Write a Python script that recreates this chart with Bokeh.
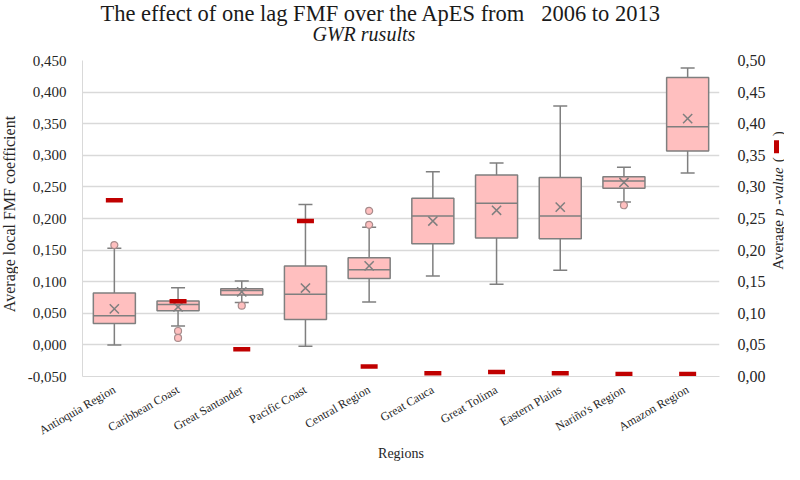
import math
from bokeh.plotting import figure
from bokeh.layouts import row, column
from bokeh.models import Range1d, FactorRange, LinearAxis, FixedTicker, Label, CustomJSTickFormatter
from bokeh.embed import file_html
from bokeh.resources import INLINE

# ---- data ----
regions = ["Antioquia Region", "Caribbean Coast", "Great Santander", "Pacific Coast",
           "Central Region", "Great Cauca", "Great Tolima", "Eastern Plains",
           "Nariño's Region", "Amazon Region"]
whisker_low = [0.000, 0.030, 0.067, -0.002, 0.068, 0.109, 0.096, 0.118, 0.226, 0.272]
q1 = [0.034, 0.054, 0.079, 0.040, 0.105, 0.160, 0.169, 0.168, 0.248, 0.307]
median = [0.046, 0.064, 0.086, 0.080, 0.119, 0.204, 0.224, 0.204, 0.2595, 0.345]
q3 = [0.082, 0.0695, 0.089, 0.125, 0.138, 0.232, 0.269, 0.265, 0.266, 0.423]
whisker_high = [0.153, 0.0905, 0.101, 0.222, 0.186, 0.274, 0.288, 0.378, 0.281, 0.438]
mean = [0.057, 0.060, 0.084, 0.090, 0.125, 0.196, 0.213, 0.218, 0.257, 0.358]
outlier_region = ["Antioquia Region", "Caribbean Coast", "Caribbean Coast", "Great Santander",
                  "Central Region", "Central Region", "Nariño's Region"]
outlier_value = [0.158, 0.022, 0.011, 0.062, 0.190, 0.212, 0.221]
p_value = [0.279, 0.119, 0.043, 0.246, 0.016, 0.005, 0.007, 0.005, 0.004, 0.004]
left_ticks = [-0.05, 0.0, 0.05, 0.1, 0.15, 0.2, 0.25, 0.3, 0.35, 0.4, 0.45]
right_ticks = [0.0, 0.05, 0.1, 0.15, 0.2, 0.25, 0.3, 0.35, 0.4, 0.45, 0.5]

SERIF = "Liberation Serif"
GRAY = "#7F7F7F"
PINK = "#FFBFBF"
RED = "#C00000"
TXT = "#262626"

TOTW, TOTH = 784, 464
TH = 51                     # title strip height
H = TOTH - TH               # height of the chart row
LW, RW = 18, 16             # side strips for the vertical axis titles
MW = TOTW - LW - RW         # main figure width
FL, FR, FT, FB = 82, 727, 60, 377   # frame edges in page pixels

p = figure(x_range=FactorRange(*regions), y_range=Range1d(-0.05, 0.45),
           width=MW, height=H, output_backend="svg", toolbar_location=None, title=None,
           min_border_left=FL - LW, min_border_right=LW + MW - FR,
           min_border_top=FT - TH, min_border_bottom=TOTH - FB)
p.extra_y_ranges = {"p": Range1d(0.0, 0.5)}
p.outline_line_color = None

# axes
p.yaxis.ticker = FixedTicker(ticks=left_ticks)
p.yaxis.formatter = CustomJSTickFormatter(code="return tick.toFixed(3).replace('.', ',');")
p.yaxis.major_tick_line_color = None
p.yaxis.minor_tick_line_color = None
p.yaxis.axis_line_color = "#D9D9D9"
p.yaxis.major_label_text_font = SERIF
p.yaxis.major_label_text_font_size = "15px"
p.yaxis.major_label_text_color = TXT
p.yaxis.major_label_standoff = 10

right = LinearAxis(y_range_name="p", ticker=FixedTicker(ticks=right_ticks),
                   formatter=CustomJSTickFormatter(code="return tick.toFixed(2).replace('.', ',');"))
right.major_tick_line_color = None
right.minor_tick_line_color = None
right.axis_line_color = None
right.major_label_text_font = SERIF
right.major_label_text_font_size = "16px"
right.major_label_text_color = TXT
right.major_label_standoff = 12
p.add_layout(right, "right")

p.xaxis.major_tick_line_color = None
p.xaxis.axis_line_color = "#D9D9D9"
p.xaxis.major_label_orientation = math.pi / 6
p.xaxis.major_label_text_font = SERIF
p.xaxis.major_label_text_font_size = "12px"
p.xaxis.major_label_text_color = TXT
p.xaxis.major_label_standoff = 6
p.xaxis.axis_label = "Regions"
p.xaxis.axis_label_text_font = SERIF
p.xaxis.axis_label_text_font_style = "normal"
p.xaxis.axis_label_text_font_size = "14px"
p.xaxis.axis_label_text_color = TXT
p.xaxis.axis_label_standoff = 0

p.xgrid.visible = False
p.ygrid.ticker = FixedTicker(ticks=left_ticks)
p.ygrid.grid_line_color = "#D9D9D9"
p.ygrid.grid_line_width = 1.3

# box plot
p.segment(x0=regions, y0=q3, x1=regions, y1=whisker_high, line_color=GRAY, line_width=1.5)
p.segment(x0=regions, y0=q1, x1=regions, y1=whisker_low, line_color=GRAY, line_width=1.5)
p.scatter(x=regions, y=whisker_high, marker="dash", size=14, line_color=GRAY, line_width=1.5)
p.scatter(x=regions, y=whisker_low, marker="dash", size=14, line_color=GRAY, line_width=1.5)
p.vbar(x=regions, bottom=q1, top=q3, width=0.66, fill_color=PINK, line_color=GRAY, line_width=1.5)
p.scatter(x=regions, y=median, marker="dash", size=42, line_color=GRAY, line_width=1.5)
p.scatter(x=regions, y=mean, marker="x", size=13, line_color=GRAY, line_width=1.5)
p.scatter(x=outlier_region, y=outlier_value, marker="circle", size=7,
          fill_color=PINK, line_color="#A88C8C", line_width=1.2)

# average p-value markers (right axis)
p.rect(x=regions, y=p_value, width=17, height=4.5, width_units="screen", height_units="screen",
       fill_color=RED, line_color=None, y_range_name="p")


# ---- text strips (their frames are given page-pixel ranges) ----
def strip(w, h, xr, yr, **borders):
    f = figure(width=w, height=h, x_range=xr, y_range=yr,
               x_axis_type=None, y_axis_type=None, title=None,
               output_backend="svg", toolbar_location=None, **borders)
    f.outline_line_color = None
    return f


top = strip(TOTW, TH, Range1d(FL, FR), Range1d(TH, 0),
            min_border_left=FL, min_border_right=TOTW - FR, min_border_top=0, min_border_bottom=0)
top.add_layout(Label(x=100, y=13, text="The effect of one lag FMF over the ApES from\u00a0\u00a0\u00a02006 to 2013",
                     text_align="left", text_baseline="alphabetic", text_font=SERIF,
                     text_font_size="22.5px", text_color="#1A1A1A"))
top.add_layout(Label(x=312, y=33.5, text="GWR rusults", text_align="left", text_baseline="alphabetic",
                     text_font=SERIF, text_font_style="italic", text_font_size="20px",
                     text_color="#1A1A1A"))

left = strip(LW, H, Range1d(0, LW), Range1d(FB, FT), min_border=0)
left.add_layout(Label(x=9, y=214, text="Average local FMF coefficient", angle=math.pi / 2,
                      text_align="center", text_baseline="middle", text_font=SERIF,
                      text_font_size="16px", text_color=TXT))

rs = strip(RW, H, Range1d(0, RW), Range1d(FB, FT), min_border=0)
RX = 9
def rlab(y, text, **kw):
    opts = dict(x=RX, y=y, text=text, angle=math.pi / 2, text_align="left",
                text_baseline="middle", text_font=SERIF, text_font_size="15px", text_color=TXT)
    opts.update(kw)
    rs.add_layout(Label(**opts))

rlab(270, "Average")
rlab(216, "p -value", text_font_style="italic")
rlab(162, "(")
rlab(136, ")")
rs.rect(x=[RX - 1], y=[146.5], width=5, height=13, fill_color=RED, line_color=None)

layout = column(top, row(left, p, rs))
open("out.html", "w").write(file_html(layout, INLINE))
